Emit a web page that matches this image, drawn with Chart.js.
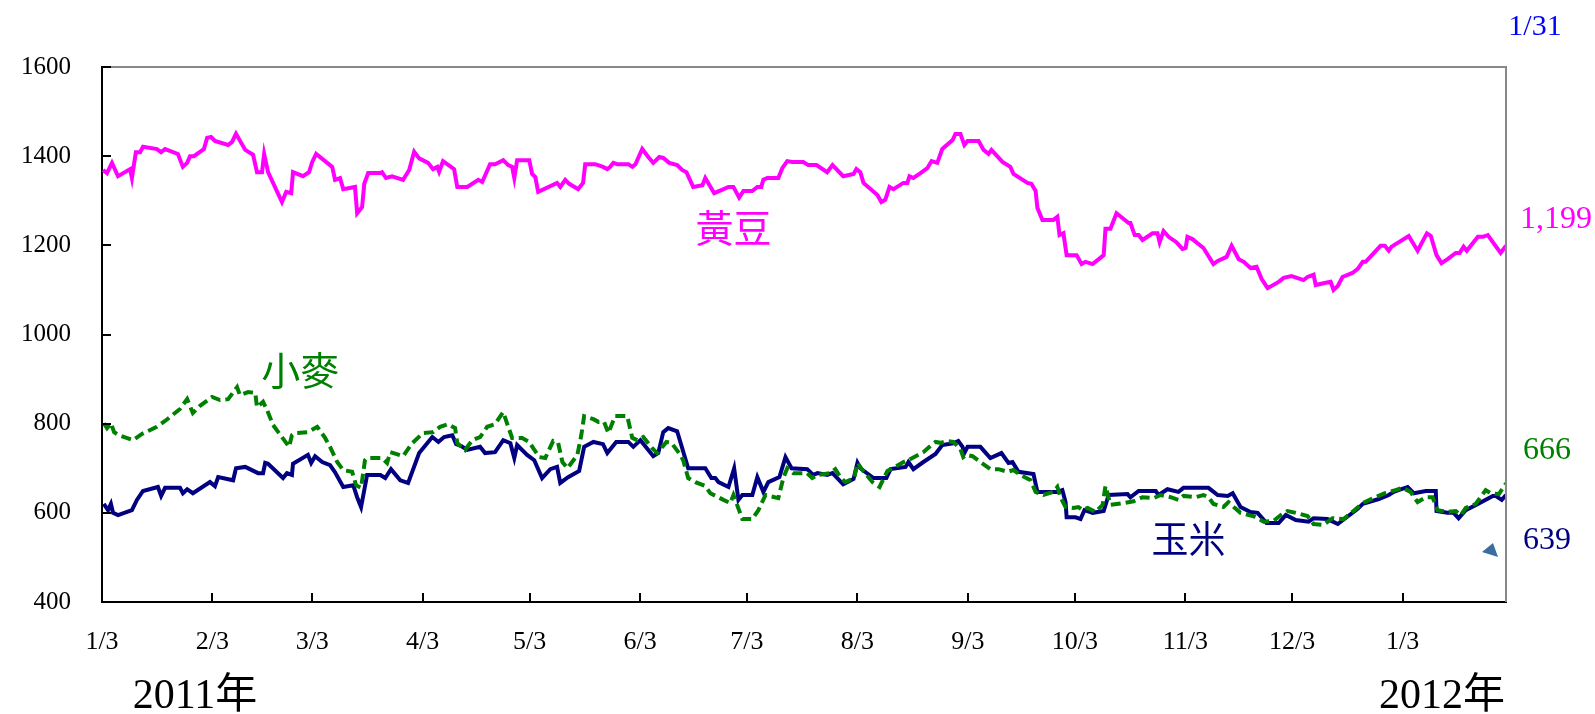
<!DOCTYPE html>
<html><head><meta charset="utf-8">
<script src="https://cdn.jsdelivr.net/npm/chart.js@4.4.1/dist/chart.umd.min.js"></script>
<style>html,body{margin:0;padding:0;background:#fff}</style>
</head><body>
<canvas id="c" width="1595" height="714"></canvas>
<script>
// x values are days since 2011-01-03
const tickDays = [0,31,59,90,120,151,181,212,243,273,304,334,365];
const tickLabels = ['1/3','2/3','3/3','4/3','5/3','6/3','7/3','8/3','9/3','10/3','11/3','12/3','1/3'];
const yTicks = [400,600,800,1000,1200,1400,1600];

const soyDays = [
0.3,1.4,2.8,4.5,7.9,8.4,9.5,10.7,11.5,15.4,
16.6,17.7,21.3,22.7,23.9,24.7,25.8,28.6,29.5,30.6,
31.7,35.4,36.5,37.6,40.2,42.4,43.5,44.9,45.5,46.6,
50.5,51.7,53.1,53.6,56.4,58.1,59.0,60.1,64.6,65.4,
66.8,67.7,71.0,71.6,73.0,73.6,74.7,78.1,78.6,79.7,
81.4,84.5,86.2,87.6,89.0,91.5,92.9,94.1,94.6,95.7,
98.8,99.7,102.5,105.6,106.7,108.9,110.3,112.6,114.0,115.1,
115.7,116.5,119.9,120.7,121.6,122.4,127.7,128.6,130.0,131.1,
133.6,135.0,135.6,138.4,140.6,141.8,142.6,143.5,144.6,147.7,
148.8,149.7,151.6,153.3,154.7,156.4,157.5,159.2,161.4,162.8,
164.0,165.9,168.5,169.3,171.8,173.8,175.8,177.2,178.8,180.0,
182.5,183.9,185.0,185.6,186.7,189.8,190.9,192.3,193.7,196.8,
198.2,200.5,203.5,205.0,208.0,210.9,211.7,212.8,213.7,217.6,
218.7,219.8,221.0,222.1,224.9,226.0,226.6,227.7,229.7,231.6,
232.8,234.4,235.8,238.7,239.5,240.9,242.0,242.9,246.0,247.4,
248.8,249.6,252.7,254.9,255.8,259.7,260.8,262.0,262.5,263.9,
267.0,268.1,268.7,269.8,270.7,273.5,274.9,276.0,278.0,281.1,
281.6,283.0,284.7,288.1,288.6,289.8,290.9,292.0,294.8,296.2,
296.8,297.9,299.3,301.5,303.2,304.1,304.6,306.0,308.3,309.1,
311.9,313.1,315.6,317.0,319.0,320.4,322.3,324.0,325.4,327.1,
330.2,331.6,333.8,337.2,338.3,340.0,340.6,343.4,344.8,345.6,
346.8,348.1,350.9,352.4,353.8,354.6,358.8,360.0,361.1,361.9,
366.7,369.2,371.8,372.9,374.5,375.9,377.6,379.9,381.0,382.1,
383.0,386.1,387.5,388.9,390.5,392.5,394.0];
const soyValues = [
1369,1362,1385,1355,1371,1351,1409,1409,1421,1416,
1409,1416,1405,1376,1385,1400,1400,1416,1441,1443,
1434,1425,1432,1450,1414,1403,1364,1364,1405,1364,
1297,1320,1317,1364,1355,1364,1387,1405,1376,1347,
1351,1326,1331,1272,1286,1338,1362,1362,1364,1351,
1355,1347,1369,1410,1395,1385,1371,1376,1365,1389,
1371,1331,1331,1347,1342,1382,1382,1391,1380,1376,
1351,1391,1391,1360,1353,1320,1340,1331,1347,1338,
1326,1340,1382,1382,1376,1371,1376,1385,1382,1382,
1376,1382,1416,1398,1385,1398,1396,1385,1380,1369,
1364,1331,1335,1351,1317,1324,1331,1331,1307,1322,
1322,1331,1331,1347,1351,1351,1373,1389,1387,1387,
1380,1380,1364,1380,1355,1360,1371,1364,1340,1313,
1297,1302,1331,1326,1340,1340,1355,1351,1362,1373,
1389,1385,1416,1436,1450,1450,1425,1434,1434,1414,
1405,1414,1387,1376,1360,1340,1338,1322,1284,1257,
1257,1264,1223,1227,1178,1178,1158,1163,1158,1178,
1237,1237,1272,1250,1250,1223,1223,1212,1227,1227,
1207,1232,1219,1207,1192,1194,1219,1214,1199,1194,
1158,1165,1174,1199,1169,1163,1149,1152,1125,1104,
1118,1127,1131,1122,1129,1134,1111,1116,1118,1100,
1109,1129,1138,1147,1163,1163,1199,1199,1188,1197,
1221,1188,1227,1221,1178,1160,1169,1183,1183,1197,
1188,1219,1219,1223,1205,1183,1199];

const cornDays = [
0.5,1.7,2.5,3.1,4.5,8.4,9.8,11.5,15.7,16.6,
17.7,21.9,22.7,23.9,25.5,30.3,31.7,32.6,36.8,37.6,
40.2,43.8,45.2,45.8,46.6,50.8,51.9,53.3,53.6,57.8,
58.7,59.8,61.8,64.0,65.4,67.7,70.5,71.6,72.7,74.4,
78.1,79.5,81.1,83.7,85.9,89.0,92.7,94.4,96.0,98.3,
99.4,100.8,102.5,106.1,107.5,110.3,112.6,114.6,115.7,116.5,
119.3,121.3,123.5,125.8,127.7,128.6,130.8,133.9,135.3,137.9,
140.6,141.8,144.3,147.7,149.1,151.1,154.7,156.1,157.5,158.9,
161.4,164.5,169.3,171.0,172.1,173.0,175.8,177.4,178.6,179.7,
182.5,183.9,185.6,187.0,190.1,191.8,193.5,197.9,199.6,200.8,
203.5,205.0,208.0,210.9,212.0,212.8,216.5,220.1,221.3,225.5,
226.3,227.7,230.5,233.9,235.8,238.9,240.3,241.5,242.0,242.9,
246.5,249.3,252.4,254.4,255.5,257.2,261.4,262.5,268.1,269.5,
270.4,270.7,273.2,274.6,275.7,278.0,281.1,282.5,287.8,288.6,
290.9,295.7,296.5,299.0,302.1,303.5,310.5,313.1,315.9,317.3,
319.5,322.3,324.3,326.8,330.2,332.2,335.0,338.6,340.0,343.9,
346.8,352.4,353.8,358.3,361.1,362.5,366.4,368.1,371.5,374.3,
374.5,377.6,379.3,380.7,382.7,386.1,390.3,391.1,392.8,394.0];
const cornValues = [
620,606,620,600,595,606,629,649,658,638,
656,656,644,653,644,669,660,680,673,700,
703,689,689,712,710,678,689,685,710,730,
712,727,714,707,691,658,662,635,613,685,
685,678,698,673,667,734,770,759,770,774,
754,750,741,748,734,736,763,756,723,752,
730,718,678,698,703,667,680,694,748,759,
754,734,759,759,748,763,727,734,781,790,
783,700,700,678,678,669,658,700,629,640,
640,680,647,669,680,725,700,698,685,689,
685,689,664,676,712,700,678,678,698,703,
714,698,714,732,752,756,761,748,734,748,
748,723,734,712,714,692,687,647,647,651,
624,590,590,586,606,600,604,640,642,635,
649,649,640,653,647,656,656,640,638,644,
613,602,600,577,577,595,584,580,588,586,
575,609,620,631,640,647,658,644,649,649,
604,600,600,588,606,620,638,638,629,640];

const wheatDays = [
0.5,1.4,2.5,3.4,4.8,8.7,11.2,15.4,17.7,21.9,
23.9,25.5,27.5,30.9,33.1,35.4,37.9,38.7,41.0,43.0,
43.5,45.2,46.3,48.0,50.3,52.5,53.3,54.2,57.8,60.4,
62.6,64.0,66.0,67.7,70.2,71.3,72.7,73.8,74.4,78.6,
80.0,80.9,84.5,87.0,90.1,92.9,94.9,97.1,99.1,99.7,
101.9,103.9,106.1,108.1,110.3,112.6,114.0,115.1,117.9,119.9,
121.0,122.7,124.4,126.6,128.0,129.2,130.6,133.4,134.5,135.3,
137.9,139.3,140.9,142.1,144.0,147.4,148.8,150.2,151.9,154.4,
155.8,158.4,159.8,162.3,163.1,164.5,166.5,169.3,170.7,174.4,
176.3,177.2,179.7,182.5,184.2,186.2,189.8,191.2,192.3,194.0,
197.9,199.3,200.8,204.4,205.8,207.2,208.6,211.1,212.0,213.4,
216.2,218.2,220.4,222.6,224.9,226.3,230.5,233.0,233.9,235.3,
237.2,238.9,240.9,241.7,242.6,244.3,246.5,249.3,251.6,254.1,
255.8,257.7,260.6,262.0,264.2,267.0,268.1,269.0,270.4,272.6,
274.0,275.2,276.6,278.8,280.8,281.6,283.0,286.7,289.5,292.0,
295.1,297.1,299.9,302.1,303.5,306.9,309.1,310.5,311.9,314.7,
316.1,317.6,319.5,323.7,326.0,328.8,330.8,332.7,335.0,338.3,
340.0,342.8,345.3,348.4,351.2,353.8,357.4,360.0,363.0,365.0,
367.2,369.2,371.5,373.4,374.8,377.6,379.9,381.3,382.7,385.5,
388.3,389.7,392.0,394.0];
const wheatValues = [
801,790,801,781,774,763,777,793,806,833,
855,824,840,860,853,855,882,864,871,869,
837,849,831,797,772,748,774,779,781,793,
768,748,714,696,692,662,656,718,723,723,
712,736,727,756,779,781,793,799,790,756,
741,763,770,793,799,826,793,768,768,759,
745,725,723,761,757,714,700,730,774,817,
810,804,804,779,817,817,768,763,770,745,
734,759,757,730,718,678,669,660,644,629,
622,640,586,586,606,640,633,678,700,689,
689,678,685,689,698,680,669,678,712,696,
669,658,694,703,714,718,736,754,759,757,
761,759,743,725,730,727,714,698,698,692,
696,685,673,647,640,647,658,635,613,611,
613,606,611,602,618,660,618,622,626,635,
633,640,635,629,638,635,640,635,620,613,
624,613,600,591,580,582,595,604,600,593,
575,573,588,586,604,622,635,644,651,656,
647,624,635,635,606,602,604,595,611,620,
651,644,642,666];

const seriesNames = ['黃豆','小麥','玉米'];
const lastValues = ['1,199','666','639'];
const dateLabel = '1/31';
const yearLabels = ['2011年','2012年'];

const SOY='#FF00FF', WHEAT='#008000', CORN='#000080';
const pts = (xs, ys) => xs.map((x,i)=>({x, y: ys[i]}));

const deco = {
  id:'deco',
  afterDraw(chart){
    const {ctx, chartArea:a, scales:{x,y}} = chart;
    ctx.save();
    ctx.strokeStyle='#888'; ctx.lineWidth=2;
    ctx.beginPath(); ctx.moveTo(a.left,a.top); ctx.lineTo(a.right,a.top); ctx.lineTo(a.right,a.bottom); ctx.stroke();
    ctx.strokeStyle='#000'; ctx.lineWidth=2;
    ctx.beginPath();
    y.ticks.forEach(t=>{const py=Math.round(y.getPixelForValue(t.value)); ctx.moveTo(a.left,py); ctx.lineTo(a.left+9,py);});
    x.ticks.forEach(t=>{const px=Math.round(x.getPixelForValue(t.value)); ctx.moveTo(px,a.bottom); ctx.lineTo(px,a.bottom-9);});
    ctx.stroke();
    ctx.textAlign='center'; ctx.textBaseline='middle';
    const cjk = s => `${s}px "Noto Sans CJK TC", "Noto Sans CJK SC", sans-serif`;
    ctx.fillStyle=SOY; ctx.font=cjk(38); ctx.fillText(seriesNames[0], x.getPixelForValue(177.2), y.getPixelForValue(1239));
    ctx.fillStyle=WHEAT; ctx.font=cjk(39); ctx.fillText(seriesNames[1], x.getPixelForValue(55.6), y.getPixelForValue(920));
    ctx.fillStyle=CORN; ctx.font=cjk(37); ctx.fillText(seriesNames[2], x.getPixelForValue(304.9), y.getPixelForValue(541));
    const serif = s => `${s}px "Liberation Serif", "Times New Roman", serif`;
    ctx.font=serif(32);
    ctx.fillStyle=SOY; ctx.fillText(lastValues[0], a.right+50, y.getPixelForValue(1257));
    ctx.fillStyle=WHEAT; ctx.fillText(lastValues[1], a.right+41, y.getPixelForValue(739));
    ctx.fillStyle=CORN; ctx.fillText(lastValues[2], a.right+41, y.getPixelForValue(537));
    ctx.fillStyle='#0000FF'; ctx.font=serif(30); ctx.fillText(dateLabel, a.right+29, 27);
    ctx.fillStyle='#3A6EA0';
    ctx.beginPath(); ctx.moveTo(a.right-24,a.bottom-50); ctx.lineTo(a.right-13,a.bottom-59); ctx.lineTo(a.right-8,a.bottom-45); ctx.closePath(); ctx.fill();
    ctx.fillStyle='#000'; ctx.font=`42px "Liberation Serif", "Noto Sans CJK TC", serif`;
    ctx.fillText(yearLabels[0], a.left+93, 697);
    ctx.fillText(yearLabels[1], a.right-64, 697);
    ctx.restore();
  }
};

new Chart(document.getElementById('c'), {
  type:'line',
  data:{datasets:[
    {label:seriesNames[1], data:pts(wheatDays,wheatValues), borderColor:WHEAT, borderWidth:4, borderDash:[10,5], pointRadius:0, tension:0, order:0},
    {label:seriesNames[2], data:pts(cornDays,cornValues), borderColor:CORN, borderWidth:4, pointRadius:0, tension:0, order:1},
    {label:seriesNames[0], data:pts(soyDays,soyValues), borderColor:SOY, borderWidth:4, pointRadius:0, tension:0, order:2}
  ]},
  options:{
    responsive:false, animation:false,
    layout:{padding:{top:67,right:89,left:0,bottom:0}},
    plugins:{legend:{display:false}, tooltip:{enabled:false}},
    scales:{
      x:{type:'linear', min:0, max:394,
        afterBuildTicks:s=>{s.ticks=tickDays.map(v=>({value:v}));},
        afterFit:s=>{s.height=112;},
        grid:{display:false, drawTicks:false},
        border:{display:true, color:'#000', width:2},
        ticks:{autoSkip:false, maxRotation:0, padding:25, color:'#000',
          font:{family:'"Liberation Serif", serif', size:26},
          callback:(v,i)=>tickLabels[i]}
      },
      y:{type:'linear', min:400, max:1600,
        afterBuildTicks:s=>{s.ticks=yTicks.map(v=>({value:v}));},
        afterFit:s=>{s.width=102;},
        grid:{display:false, drawTicks:false},
        border:{display:true, color:'#000', width:2},
        ticks:{padding:31, color:'#000', font:{family:'"Liberation Serif", serif', size:25},
          callback:v=>String(v)}
      }
    }
  },
  plugins:[deco]
});
</script>
</body></html>
